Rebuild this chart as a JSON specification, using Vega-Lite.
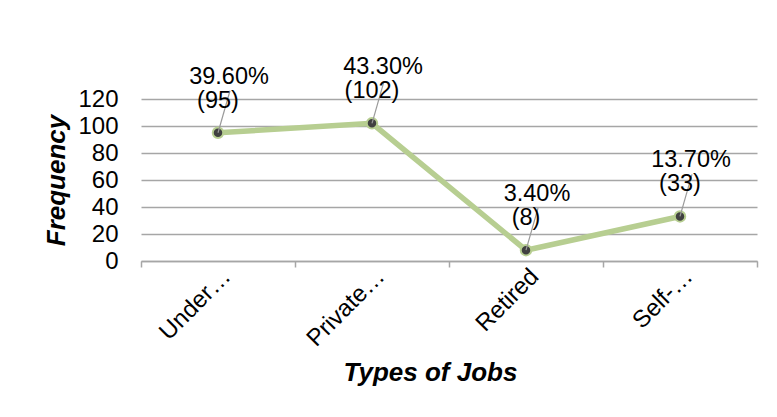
{
  "$schema": "https://vega.github.io/schema/vega-lite/v6.json",
  "autosize": {"type": "none"},
  "padding": {"left": 141, "top": 99, "right": 20, "bottom": 156},
  "width": 616,
  "height": 162,
  "background": "white",
  "config": {
    "view": {"stroke": null},
    "font": "Liberation Sans",
    "text": {"font": "Liberation Sans"}
  },
  "data": {
    "values": [
      {"job": "Under…", "freq": 95, "pct": "39.60%", "cnt": "(95)"},
      {"job": "Private…", "freq": 102, "pct": "43.30%", "cnt": "(102)"},
      {"job": "Retired", "freq": 8, "pct": "3.40%", "cnt": "(8)"},
      {"job": "Self-…", "freq": 33, "pct": "13.70%", "cnt": "(33)"}
    ]
  },
  "encoding": {
    "x": {
      "field": "job",
      "type": "nominal",
      "sort": null,
      "scale": {"paddingInner": 0, "paddingOuter": 0},
      "axis": {
        "title": "Types of Jobs",
        "titleFont": "Liberation Sans",
        "titleFontSize": 26,
        "titleFontWeight": "bold",
        "titleFontStyle": "italic",
        "titleColor": "black",
        "titleX": 289,
        "titleY": 119,
        "titleBaseline": "alphabetic",
        "labelAngle": -45,
        "labelFontSize": 24,
        "labelColor": "black",
        "labelPadding": -3,
        "labelOffset": 0,
        "labelLimit": 300,
        "tickBand": "extent",
        "domainColor": "#A6A6A6",
        "domainWidth": 1.5,
        "tickColor": "#A6A6A6",
        "tickWidth": 1.5,
        "tickSize": 6,
        "grid": false
      }
    },
    "y": {
      "field": "freq",
      "type": "quantitative",
      "scale": {"domain": [0, 120], "nice": false},
      "axis": {
        "title": "Frequency",
        "titleFont": "Liberation Sans",
        "titleFontSize": 26,
        "titleFontWeight": "bold",
        "titleFontStyle": "italic",
        "titleColor": "black",
        "titlePadding": 8,
        "values": [0, 20, 40, 60, 80, 100, 120],
        "labelFontSize": 24,
        "labelColor": "black",
        "labelPadding": 23,
        "ticks": false,
        "domain": false,
        "grid": true,
        "gridColor": "#A6A6A6",
        "gridWidth": 1.3
      }
    }
  },
  "layer": [
    {"mark": {"type": "line", "stroke": "#B7CE91", "strokeWidth": 5.5}},
    {"mark": {"type": "point", "filled": true, "shape": "circle", "size": 110, "fill": "#404040", "stroke": "#B7CE91", "strokeWidth": 2, "opacity": 1}},
    {
      "mark": {"type": "rule", "stroke": "#9A9A9A", "strokeWidth": 1.2, "x2Offset": 12, "y2Offset": -42},
      "encoding": {"x2": {"field": "job"}, "y2": {"field": "freq"}}
    },
    {
      "mark": {"type": "text", "fontSize": 23.5, "dx": 11, "dy": -49, "baseline": "alphabetic", "align": "center", "color": "black"},
      "encoding": {"text": {"field": "pct"}}
    },
    {
      "mark": {"type": "text", "fontSize": 23.5, "dy": -25, "baseline": "alphabetic", "align": "center", "color": "black"},
      "encoding": {"text": {"field": "cnt"}}
    }
  ]
}
